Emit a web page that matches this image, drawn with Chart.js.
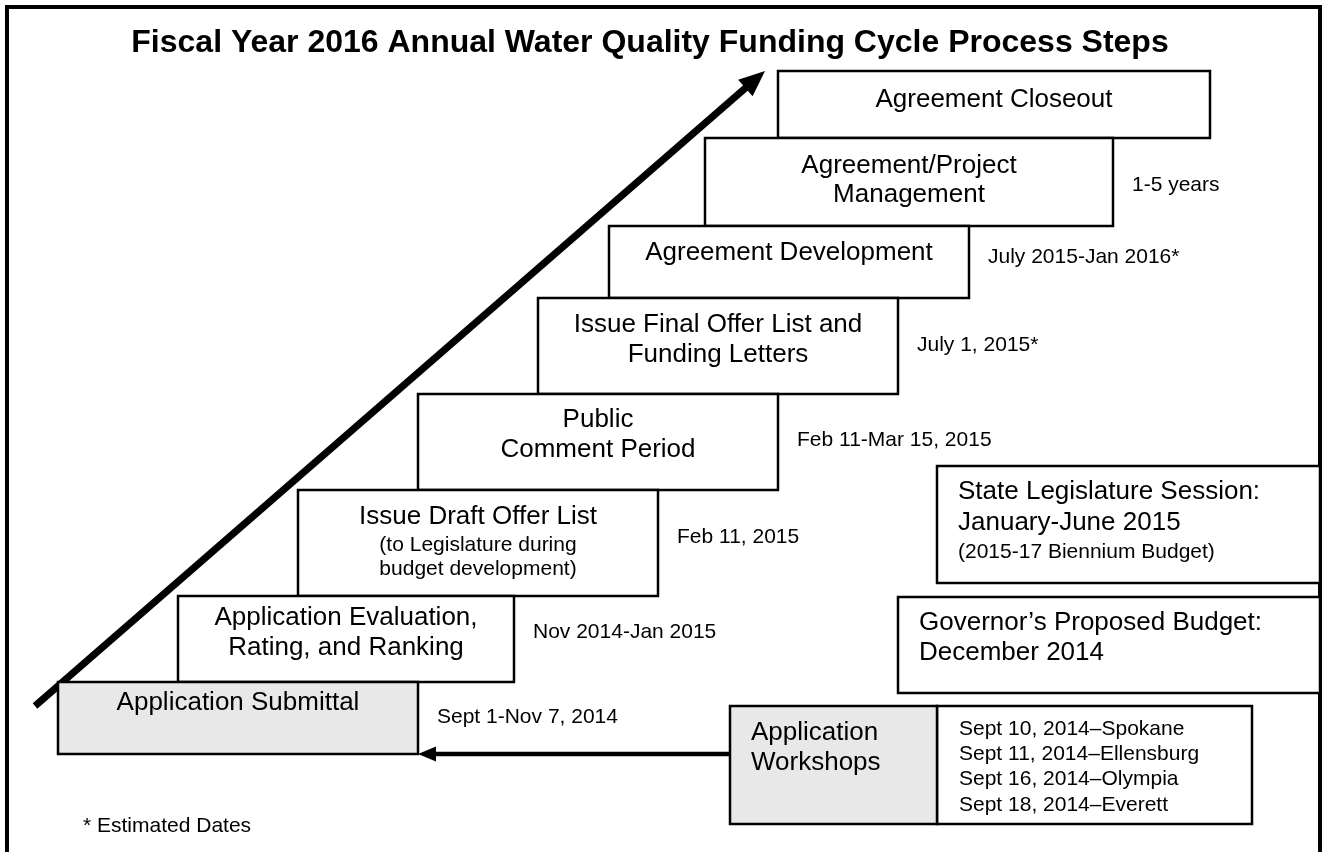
<!DOCTYPE html>
<html>
<head>
<meta charset="utf-8">
<title>FY2016 Water Quality Funding Cycle</title>
<script src="https://cdn.jsdelivr.net/npm/chart.js@4.4.1/dist/chart.umd.min.js"></script>
<style>
  html, body { margin: 0; padding: 0; background: #fff; }
  #wrap { position: relative; width: 1324px; height: 852px; overflow: hidden; }
</style>
</head>
<body>
<div id="wrap"><canvas id="cycleChart" width="1324" height="852"></canvas></div>
<script>
// process steps, bottom to top
const stepNames = [
    ['Application Submittal'],
    ['Application Evaluation,', 'Rating, and Ranking'],
    ['Issue Draft Offer List'],
    ['Public', 'Comment Period'],
    ['Issue Final Offer List and', 'Funding Letters'],
    ['Agreement Development'],
    ['Agreement/Project', 'Management'],
    ['Agreement Closeout']
];
const stepNotes = [[], [], ['(to Legislature during', 'budget development)'], [], [], [], [], []];
const stepDates = ['Sept 1-Nov 7, 2014', 'Nov 2014-Jan 2015', 'Feb 11, 2015', 'Feb 11-Mar 15, 2015',
    'July 1, 2015*', 'July 2015-Jan 2016*', '1-5 years', ''];

// extent of each step on the diagram grid
const stepStart = [58, 178, 298, 418, 538, 609, 705, 778];
const stepEnd = [418, 514, 658, 778, 898, 969, 1113, 1210];
const stepTop = [682, 596, 490, 394, 298, 226, 138, 71];
const stepBottom = [754, 682, 596, 490, 394, 298, 226, 138];

// side notes
const budgetNames = [
    ['State Legislature Session:', 'January-June 2015', '(2015-17 Biennium Budget)'],
    ['Governor\u2019s Proposed Budget:', 'December 2014']
];
const workshopName = ['Application', 'Workshops'];
const workshopDates = ['Sept 10, 2014\u2013Spokane', 'Sept 11, 2014\u2013Ellensburg',
    'Sept 16, 2014\u2013Olympia', 'Sept 18, 2014\u2013Everett'];
const footnote = '* Estimated Dates';
const titleText = 'Fiscal Year 2016 Annual Water Quality Funding Cycle Process Steps';

document.addEventListener('DOMContentLoaded', function() {
    const ctx = document.getElementById('cycleChart').getContext('2d');
    const FONT = '"Liberation Sans", Arial, Helvetica, sans-serif';
    const GREY = '#e8e8e8';

    // layout (pixel-grid units) for texts
    const stepLineY = [[703], [618, 648], [517], [420, 450], [325, 355], [253], [166, 195], [100]];
    const noteLineY = [[], [], [545, 569], [], [], [], [], []];
    const dateY = [717, 632, 537, 440, 345, 257, 185, 0];

    const budgetBoxes = [
        { l: 937, r: 1320, t: 466, b: 583, tx: 958, ys: [492, 523, 552], sizes: [26, 26, 21] },
        { l: 898, r: 1320, t: 597, b: 693, tx: 919, ys: [623, 653], sizes: [26, 26] }
    ];
    const workshop = { l: 730, mid: 937, r: 1252, t: 706, b: 824 };

    function rect(l, r, t, b) {
        return [{x: l, y: t}, {x: r, y: t}, {x: r, y: b}, {x: l, y: b}, {x: l, y: t}];
    }

    function boxDataset(pts, fillColor) {
        return {
            data: pts,
            borderColor: '#000',
            borderWidth: 2.5,
            borderJoinStyle: 'miter',
            borderCapStyle: 'square',
            backgroundColor: fillColor,
            fill: 'shape',
            pointRadius: 0,
            tension: 0
        };
    }

    const datasets = [];
    stepNames.forEach((n, i) => {
        datasets.push(boxDataset(rect(stepStart[i], stepEnd[i], stepTop[i], stepBottom[i]), i === 0 ? GREY : '#fff'));
    });
    budgetBoxes.forEach(b => datasets.push(boxDataset(rect(b.l, b.r, b.t, b.b), '#fff')));
    datasets.push(boxDataset(rect(workshop.l, workshop.mid, workshop.t, workshop.b), GREY));
    datasets.push(boxDataset(rect(workshop.mid, workshop.r, workshop.t, workshop.b), '#fff'));

    // arrows: [tail, tip]
    const arrows = [
        { from: {x: 35, y: 706}, to: {x: 765, y: 71}, width: 7, head: 26, half: 11 },
        { from: {x: workshop.l, y: stepBottom[0]}, to: {x: stepEnd[0], y: stepBottom[0]}, width: 4.5, head: 18, half: 7.5 }
    ];
    arrows.forEach(a => {
        const dx = a.to.x - a.from.x, dy = a.to.y - a.from.y;
        const len = Math.sqrt(dx * dx + dy * dy);
        const k = (len - a.head + 2) / len;
        datasets.push({
            data: [a.from, {x: a.from.x + dx * k, y: a.from.y + dy * k}],
            borderColor: '#000',
            borderWidth: a.width,
            borderCapStyle: 'butt',
            fill: false,
            pointRadius: 0
        });
    });

    const diagramText = {
        id: 'diagramText',
        beforeDatasetsDraw(chart) {
            const c = chart.ctx;
            const {x, y} = chart.scales;
            // outer frame
            c.save();
            c.strokeStyle = '#000';
            c.lineWidth = 4;
            c.strokeRect(x.getPixelForValue(7), y.getPixelForValue(7),
                x.getPixelForValue(1320) - x.getPixelForValue(7), y.getPixelForValue(900) - y.getPixelForValue(7));
            c.restore();
        },
        afterDatasetsDraw(chart) {
            const c = chart.ctx;
            const {x, y} = chart.scales;
            const px = v => x.getPixelForValue(v);
            const py = v => y.getPixelForValue(v);
            c.save();
            c.fillStyle = '#000';
            c.textBaseline = 'middle';

            // arrow heads
            arrows.forEach(a => {
                const dx = a.to.x - a.from.x, dy = a.to.y - a.from.y;
                const len = Math.sqrt(dx * dx + dy * dy);
                const ux = dx / len, uy = dy / len;
                const bx = a.to.x - ux * a.head, by = a.to.y - uy * a.head;
                c.beginPath();
                c.moveTo(px(a.to.x), py(a.to.y));
                c.lineTo(px(bx - uy * a.half), py(by + ux * a.half));
                c.lineTo(px(bx + uy * a.half), py(by - ux * a.half));
                c.closePath();
                c.fill();
            });

            // title
            c.textAlign = 'center';
            c.font = 'bold 32px ' + FONT;
            c.fillText(titleText, px(650), py(43));

            // step labels
            stepNames.forEach((lines, i) => {
                const cx = px((stepStart[i] + stepEnd[i]) / 2);
                c.textAlign = 'center';
                c.font = '26px ' + FONT;
                lines.forEach((t, j) => c.fillText(t, cx, py(stepLineY[i][j])));
                c.font = '21px ' + FONT;
                stepNotes[i].forEach((t, j) => c.fillText(t, cx, py(noteLineY[i][j])));
                if (stepDates[i]) {
                    c.textAlign = 'left';
                    c.fillText(stepDates[i], px(stepEnd[i] + 19), py(dateY[i]));
                }
            });

            // budget notes
            c.textAlign = 'left';
            budgetBoxes.forEach((b, i) => {
                budgetNames[i].forEach((t, j) => {
                    c.font = b.sizes[j] + 'px ' + FONT;
                    c.fillText(t, px(b.tx), py(b.ys[j]));
                });
            });

            // workshops
            c.font = '26px ' + FONT;
            workshopName.forEach((t, j) => c.fillText(t, px(workshop.l + 21), py(733 + j * 30)));
            c.font = '21px ' + FONT;
            workshopDates.forEach((t, j) => c.fillText(t, px(workshop.mid + 22), py(729 + j * 25.3)));

            // footnote
            c.fillText(footnote, px(83), py(826));
            c.restore();
        }
    };

    new Chart(ctx, {
        type: 'line',
        data: { datasets: datasets },
        options: {
            responsive: false,
            animation: false,
            events: [],
            layout: { padding: 0 },
            scales: {
                x: { type: 'linear', min: 0, max: 1324, display: false },
                y: { type: 'linear', min: 0, max: 852, reverse: true, display: false }
            },
            plugins: {
                legend: { display: false },
                tooltip: { enabled: false },
                title: { display: false }
            }
        },
        plugins: [diagramText]
    });
});
</script>
</body>
</html>
